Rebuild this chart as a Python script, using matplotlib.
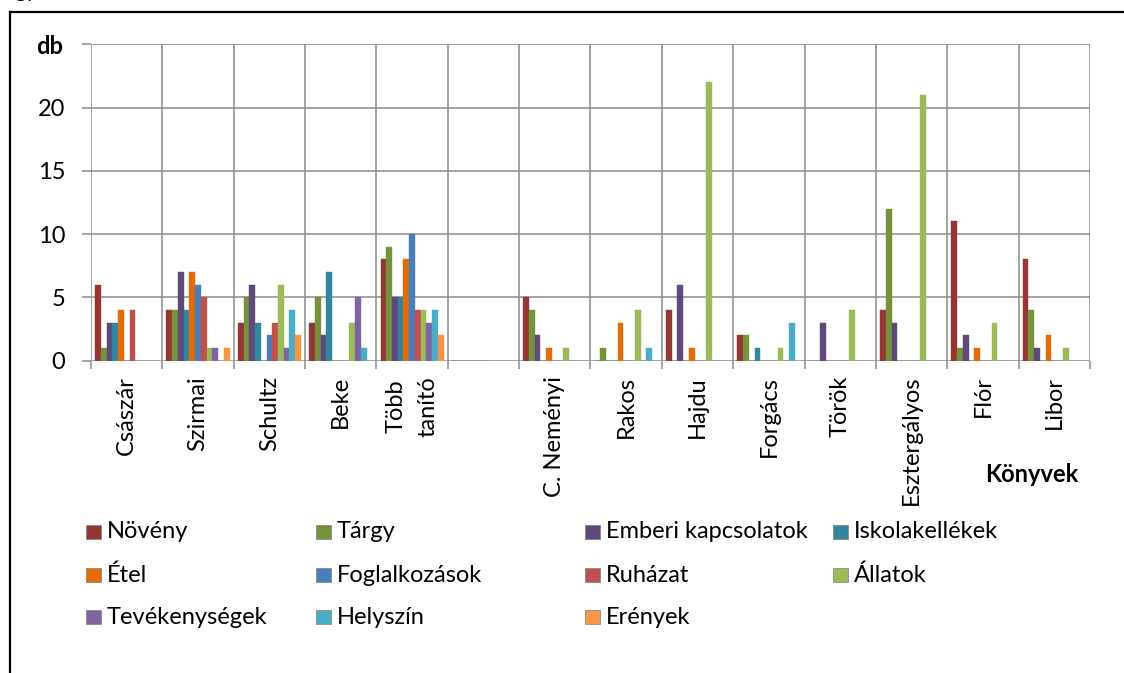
# Grouped bar chart: words per category in each textbook (könyvek)

import matplotlib
matplotlib.use('Agg')
import matplotlib.pyplot as plt
import numpy as np
from matplotlib.patches import Rectangle
from matplotlib.lines import Line2D

plt.rcParams['font.family'] = ['Lato', 'DejaVu Sans']

# --- Data ---
books = ['Császár', 'Szirmai', 'Schultz', 'Beke', 'Több\ntanító', '',
         'C. Neményi', 'Rakos', 'Hajdu', 'Forgács', 'Török', 'Esztergályos', 'Flór', 'Libor']

series_names = ['Növény', 'Tárgy', 'Emberi kapcsolatok', 'Iskolakellékek', 'Étel',
                'Foglalkozások', 'Ruházat', 'Állatok', 'Tevékenységek', 'Helyszín', 'Erények']

noveny        = [6, 4, 3, 3, 8, 0, 5, 0, 4, 2, 0, 4, 11, 8]
targy         = [1, 4, 5, 5, 9, 0, 4, 1, 0, 2, 0, 12, 1, 4]
emberi        = [3, 7, 6, 2, 5, 0, 2, 0, 6, 0, 3, 3, 2, 1]
iskola        = [3, 4, 3, 7, 5, 0, 0, 0, 0, 1, 0, 0, 0, 0]
etel          = [4, 7, 0, 0, 8, 0, 1, 3, 1, 0, 0, 0, 1, 2]
foglalkozasok = [0, 6, 2, 0, 10, 0, 0, 0, 0, 0, 0, 0, 0, 0]
ruhazat       = [4, 5, 3, 0, 4, 0, 0, 0, 0, 0, 0, 0, 0, 0]
allatok       = [0, 1, 6, 3, 4, 0, 1, 4, 22, 1, 4, 21, 3, 1]
tevekenysegek = [0, 1, 1, 5, 3, 0, 0, 0, 0, 0, 0, 0, 0, 0]
helyszin      = [0, 0, 4, 1, 4, 0, 0, 1, 0, 3, 0, 0, 0, 0]
erenyek       = [0, 1, 2, 0, 2, 0, 0, 0, 0, 0, 0, 0, 0, 0]

all_series = [noveny, targy, emberi, iskola, etel, foglalkozasok,
              ruhazat, allatok, tevekenysegek, helyszin, erenyek]

yticks = [0, 5, 10, 15, 20, 25]
ytick_labels = ['0', '5', '10', '15', '20', '']

# --- Styling ---
colors = ['#943634', '#76923C', '#5F497A', '#31859C', '#E36C09',
          '#4A7EBB', '#C0504D', '#9BBB59', '#8064A2', '#4BACC6', '#F79646']
grid_color = '#8C8C8C'
font_size = 17
W, H = 1124, 673
n_series = len(all_series)
bar_width = 0.885 / n_series

fig = plt.figure(figsize=(W / 100, H / 100), dpi=100)
ax = fig.add_axes([91 / W, 1 - 360.7 / H, 999 / W, (360.7 - 44.2) / H])

x = np.arange(len(books))
for j, (vals, col, name) in enumerate(zip(all_series, colors, series_names)):
    offs = (j - (n_series - 1) / 2) * bar_width
    ax.bar(x + offs, vals, bar_width, color=col, edgecolor=col, linewidth=0.3,
           label=name, zorder=3)

ax.set_xlim(-0.5, len(books) - 0.5)
ax.set_ylim(0, 25)

# category labels at centers, gridlines / ticks at boundaries
ax.set_xticks(x)
ax.set_xticklabels(books, rotation=90, fontsize=font_size, va='top', ha='center',
                   multialignment='center', linespacing=1.6)
ax.set_xticks(np.arange(-0.5, len(books), 1), minor=True)
ax.tick_params(axis='x', which='major', length=0, pad=11)
ax.tick_params(axis='x', which='minor', length=5.5, width=1.1, color=grid_color, direction='out')
ax.set_yticks(yticks)
ax.set_yticklabels(ytick_labels, fontsize=font_size)
ax.tick_params(axis='y', length=6.5, width=1.1, color=grid_color, pad=12)

ax.grid(True, which='minor', axis='x', color=grid_color, linewidth=1.1, zorder=0)
ax.grid(True, which='major', axis='y', color=grid_color, linewidth=1.1, zorder=0)
ax.set_axisbelow(True)
for s in ax.spines.values():
    s.set_visible(False)

# axis titles
fig.text(50 / W, 1 - 47 / H, 'db', fontsize=font_size, fontweight='bold', ha='center', va='center')
fig.text(1032 / W, 1 - 475 / H, 'Könyvek', fontsize=font_size, fontweight='bold',
         ha='center', va='center')

# legend (3 rows x 4 columns, row-major like the original)
col_x = [86, 316, 585, 833]
row_y = [532, 575, 617]
for j, (name, col) in enumerate(zip(series_names, colors)):
    r, c = divmod(j, 4)
    x0, yc = col_x[c], row_y[r]
    fig.patches.append(Rectangle((x0 / W, 1 - (yc + 7) / H), 15 / W, 14 / H,
                                 transform=fig.transFigure, facecolor=col,
                                 edgecolor='#7F7F7F', linewidth=0.5))
    fig.text((x0 + 21) / W, 1 - yc / H, name, fontsize=font_size, ha='left', va='center')

# frame of the chart object in the document
fig.add_artist(Line2D([10 / W, 1], [1 - 12 / H, 1 - 12 / H], color='black', linewidth=1.6,
                      transform=fig.transFigure))
fig.add_artist(Line2D([10 / W, 10 / W], [1 - 12 / H, 0], color='black', linewidth=1.6,
                      transform=fig.transFigure))
# clipped document text above the chart
fig.text(14 / W, 1 + 3 / H, 'gy', fontsize=16, ha='left', va='baseline')

plt.savefig('out.png', dpi=100)
